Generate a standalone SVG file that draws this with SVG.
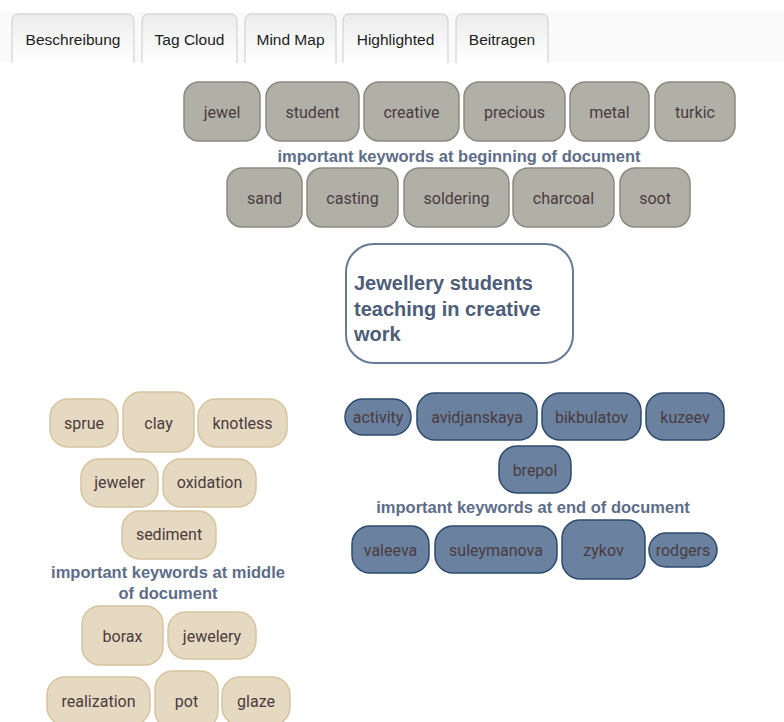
<svg xmlns="http://www.w3.org/2000/svg" width="784" height="722" viewBox="0 0 784 722">
<defs>
<linearGradient id="tabg" x1="0" y1="0" x2="0" y2="1">
<stop offset="0" stop-color="#ececec"/>
<stop offset="1" stop-color="#ffffff"/>
</linearGradient>
<style>
.tab{fill:url(#tabg);stroke:#cccccc;stroke-width:1}
.tabt{font-family:"Liberation Sans",Arial,sans-serif;font-size:15.5px;fill:#222;text-anchor:middle}
.g rect{fill:#b1b0a7;stroke:#8a8a80;stroke-width:1.5}
.b rect{fill:#e6d9c1;stroke:#d6c39f;stroke-width:1.5}
.u rect{fill:#6a829f;stroke:#2d4a6e;stroke-width:1.5}
.n text{font-family:Roboto,"Liberation Sans",sans-serif;font-size:16px;fill:#4a3b3f;text-anchor:middle;dominant-baseline:central}
.lbl{font-family:"Liberation Sans",Arial,sans-serif;font-weight:bold;font-size:16.5px;fill:#5d6d88;text-anchor:middle}
.ct{font-family:"Liberation Sans",Arial,sans-serif;font-weight:bold;font-size:20px;fill:#4e5d78}
</style>
</defs>
<rect x="0" y="0" width="784" height="722" fill="#ffffff"/>
<rect x="0" y="12" width="784" height="50" fill="#fafafa"/>
<g id="tabs">
<path class="tab" d="M12,63 V21 Q12,14 19,14 H127 Q134,14 134,21 V63"/>
<text class="tabt" x="73" y="45">Beschreibung</text>
<path class="tab" d="M142,63 V21 Q142,14 149,14 H230 Q237,14 237,21 V63"/>
<text class="tabt" x="189.5" y="45">Tag Cloud</text>
<path class="tab" d="M245,63 V21 Q245,14 252,14 H329 Q336,14 336,21 V63"/>
<text class="tabt" x="290.5" y="45">Mind Map</text>
<path class="tab" d="M343,63 V21 Q343,14 350,14 H441 Q448,14 448,21 V63"/>
<text class="tabt" x="395.5" y="45">Highlighted</text>
<path class="tab" d="M456,63 V21 Q456,14 463,14 H541 Q548,14 548,21 V63"/>
<text class="tabt" x="502" y="45">Beitragen</text>
</g>
<g id="connectors"></g>
<g id="center">
<rect x="346" y="244" width="227" height="119" rx="28" fill="#ffffff" stroke="#667b96" stroke-width="2"/>
<text class="ct" x="354" y="290">Jewellery students</text>
<text class="ct" x="354" y="316">teaching in creative</text>
<text class="ct" x="354" y="341">work</text>
</g>
<g id="group-beginning">
<text class="lbl" x="459" y="162">important keywords at beginning of document</text>
<g id="n-jewel" class="n g"><rect x="184" y="82" width="76" height="59" rx="15"/><text x="222" y="112">jewel</text></g>
<g id="n-student" class="n g"><rect x="266" y="82" width="93" height="59" rx="15"/><text x="312.5" y="112">student</text></g>
<g id="n-creative" class="n g"><rect x="364" y="82" width="95" height="59" rx="15"/><text x="411.5" y="112">creative</text></g>
<g id="n-precious" class="n g"><rect x="464" y="82" width="101" height="59" rx="15"/><text x="514.5" y="112">precious</text></g>
<g id="n-metal" class="n g"><rect x="570" y="82" width="79" height="59" rx="15"/><text x="609.5" y="112">metal</text></g>
<g id="n-turkic" class="n g"><rect x="655" y="82" width="80" height="59" rx="15"/><text x="695" y="112">turkic</text></g>
<g id="n-sand" class="n g"><rect x="227" y="168" width="75" height="59" rx="15"/><text x="264.5" y="198">sand</text></g>
<g id="n-casting" class="n g"><rect x="307" y="168" width="91" height="59" rx="15"/><text x="352.5" y="198">casting</text></g>
<g id="n-soldering" class="n g"><rect x="404" y="168" width="105" height="59" rx="15"/><text x="456.5" y="198">soldering</text></g>
<g id="n-charcoal" class="n g"><rect x="513" y="168" width="101" height="59" rx="15"/><text x="563.5" y="198">charcoal</text></g>
<g id="n-soot" class="n g"><rect x="620" y="168" width="70" height="59" rx="15"/><text x="655" y="198">soot</text></g>
</g>
<g id="group-middle">
<g id="n-sprue" class="n b"><rect x="50" y="399" width="68" height="48" rx="18"/><text x="84" y="423.5">sprue</text></g>
<g id="n-clay" class="n b"><rect x="123" y="392" width="71" height="60" rx="18"/><text x="158.5" y="423.5">clay</text></g>
<g id="n-knotless" class="n b"><rect x="198" y="399" width="89" height="48" rx="18"/><text x="242.5" y="423.5">knotless</text></g>
<g id="n-jeweler" class="n b"><rect x="81" y="459" width="77" height="48" rx="18"/><text x="119.5" y="482">jeweler</text></g>
<g id="n-oxidation" class="n b"><rect x="163" y="459" width="93" height="48" rx="18"/><text x="209.5" y="482">oxidation</text></g>
<g id="n-sediment" class="n b"><rect x="122" y="511" width="94" height="48" rx="18"/><text x="169" y="534">sediment</text></g>
<text class="lbl" x="168" y="578">important keywords at middle</text>
<text class="lbl" x="168" y="599">of document</text>
<g id="n-borax" class="n b"><rect x="82" y="606" width="81" height="59" rx="18"/><text x="122.5" y="636">borax</text></g>
<g id="n-jewelery" class="n b"><rect x="168" y="612" width="88" height="47" rx="18"/><text x="212" y="636">jewelery</text></g>
<g id="n-realization" class="n b"><rect x="47" y="677" width="103" height="48" rx="18"/><text x="98.5" y="701">realization</text></g>
<g id="n-pot" class="n b"><rect x="155" y="671" width="63" height="58" rx="18"/><text x="186.5" y="701">pot</text></g>
<g id="n-glaze" class="n b"><rect x="222" y="677" width="68" height="48" rx="18"/><text x="256" y="701">glaze</text></g>
</g>
<g id="group-end">
<g id="n-activity" class="n u"><rect x="345" y="399" width="66" height="36" rx="18"/><text x="378" y="417">activity</text></g>
<g id="n-avidjanskaya" class="n u"><rect x="417" y="393" width="120" height="47" rx="18"/><text x="477" y="417">avidjanskaya</text></g>
<g id="n-bikbulatov" class="n u"><rect x="542" y="393" width="99" height="47" rx="18"/><text x="591.5" y="417">bikbulatov</text></g>
<g id="n-kuzeev" class="n u"><rect x="646" y="393" width="78" height="47" rx="18"/><text x="685" y="417">kuzeev</text></g>
<g id="n-brepol" class="n u"><rect x="499" y="446" width="72" height="47" rx="18"/><text x="535" y="470">brepol</text></g>
<text class="lbl" x="533" y="513">important keywords at end of document</text>
<g id="n-valeeva" class="n u"><rect x="352" y="526" width="77" height="47" rx="18"/><text x="390.5" y="550">valeeva</text></g>
<g id="n-suleymanova" class="n u"><rect x="435" y="526" width="122" height="47" rx="18"/><text x="496" y="550">suleymanova</text></g>
<g id="n-zykov" class="n u"><rect x="562" y="520" width="83" height="59" rx="18"/><text x="603.5" y="550">zykov</text></g>
<g id="n-rodgers" class="n u"><rect x="649" y="533" width="68" height="34" rx="17"/><text x="683" y="550">rodgers</text></g>
</g>
</svg>
